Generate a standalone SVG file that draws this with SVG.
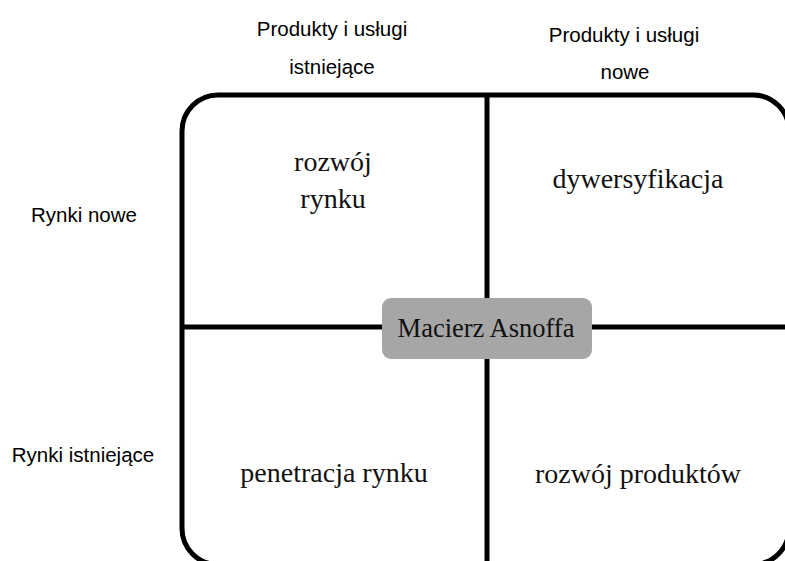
<svg xmlns="http://www.w3.org/2000/svg" width="785" height="561" viewBox="0 0 785 561">
<style>
.lbl{font-family:"Liberation Sans",Arial,sans-serif;font-size:20.5px;fill:#000;text-anchor:middle}
.cell{font-family:"Liberation Serif","Times New Roman",serif;font-size:28px;fill:#111;text-anchor:middle}
.ln{stroke:#000;stroke-width:5;fill:none}
</style>
<rect width="785" height="561" fill="#fff"/>
<g id="frame">
<rect class="ln" x="182" y="95" width="607" height="469.5" rx="36" ry="36"/>
</g>
<g id="connectors">
<line class="ln" x1="487" y1="95" x2="487" y2="561"/>
<line class="ln" x1="182" y1="327" x2="785" y2="327"/>
</g>
<g id="labels">
<text class="lbl" x="332" y="36">Produkty i usługi</text>
<text class="lbl" x="332" y="74">istniejące</text>
<text class="lbl" x="624" y="42">Produkty i usługi</text>
<text class="lbl" x="625" y="79">nowe</text>
<text class="lbl" x="84" y="222">Rynki nowe</text>
<text class="lbl" x="83" y="462">Rynki istniejące</text>
</g>
<g id="rozwoj-rynku"><text class="cell" x="333" y="171">rozwój</text><text class="cell" x="333" y="208">rynku</text></g>
<g id="dywersyfikacja"><text class="cell" x="638" y="188">dywersyfikacja</text></g>
<g id="penetracja-rynku"><text class="cell" x="334" y="482">penetracja rynku</text></g>
<g id="rozwoj-produktow"><text class="cell" x="638" y="483">rozwój produktów</text></g>
<g id="center">
<rect x="382" y="298" width="210" height="61" rx="9" ry="9" fill="#a6a6a6"/>
<text class="cell" x="486" y="337" style="font-size:26.5px">Macierz Asnoffa</text>
</g>
</svg>
